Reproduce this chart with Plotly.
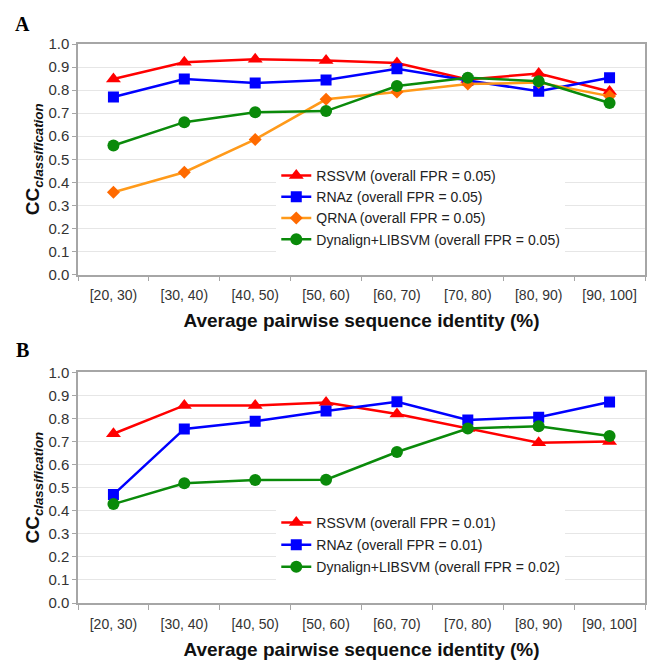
import plotly.graph_objects as go

categories = ["[20, 30)", "[30, 40)", "[40, 50)", "[50, 60)", "[60, 70)",
              "[70, 80)", "[80, 90)", "[90, 100]"]
y_ticks = [0.0, 0.1, 0.2, 0.3, 0.4, 0.5, 0.6, 0.7, 0.8, 0.9, 1.0]

# Panel A (overall FPR = 0.05)
a_rssvm = [0.848, 0.921, 0.934, 0.928, 0.918, 0.846, 0.872, 0.794]
a_rnaz = [0.770, 0.848, 0.831, 0.844, 0.893, 0.842, 0.795, 0.854]
a_qrna = [0.357, 0.444, 0.586, 0.760, 0.792, 0.826, 0.833, 0.774]
a_dyn = [0.560, 0.661, 0.704, 0.709, 0.818, 0.854, 0.838, 0.744]
a_names = ["RSSVM (overall FPR = 0.05)", "RNAz (overall FPR = 0.05)",
           "QRNA (overall FPR = 0.05)", "Dynalign+LIBSVM (overall FPR = 0.05)"]

# Panel B
b_rssvm = [0.734, 0.857, 0.857, 0.870, 0.820, 0.757, 0.695, 0.700]
b_rnaz = [0.470, 0.755, 0.788, 0.833, 0.873, 0.794, 0.806, 0.872]
b_dyn = [0.429, 0.519, 0.533, 0.535, 0.655, 0.757, 0.767, 0.724]
b_names = ["RSSVM (overall FPR = 0.01)", "RNAz (overall FPR = 0.01)",
           "Dynalign+LIBSVM (overall FPR = 0.02)"]

FONT = "Liberation Sans, Arial, sans-serif"
RED, BLUE, GREEN = "#ff0000", "#0000ff", "#0a8a0a"
ORANGE_L, ORANGE_M = "#ff9a1a", "#ff6a00"

styles = {
    "rssvm": dict(line=dict(color=RED, width=2.5),
                  marker=dict(symbol="triangle-up", size=13, color=RED)),
    "rnaz": dict(line=dict(color=BLUE, width=2.5),
                 marker=dict(symbol="square", size=11, color=BLUE)),
    "qrna": dict(line=dict(color=ORANGE_L, width=2.5),
                 marker=dict(symbol="diamond", size=10, color=ORANGE_M)),
    "dyn": dict(line=dict(color=GREEN, width=2.5),
                marker=dict(symbol="circle", size=12, color=GREEN)),
}

fig = go.Figure()

for vals, name, key in zip([a_rssvm, a_rnaz, a_qrna, a_dyn], a_names,
                           ["rssvm", "rnaz", "qrna", "dyn"]):
    fig.add_trace(go.Scatter(x=categories, y=vals, name=name, mode="lines+markers",
                             xaxis="x", yaxis="y", legend="legend", **styles[key]))

for vals, name, key in zip([b_rssvm, b_rnaz, b_dyn], b_names,
                           ["rssvm", "rnaz", "dyn"]):
    fig.add_trace(go.Scatter(x=categories, y=vals, name=name, mode="lines+markers",
                             xaxis="x2", yaxis="y2", legend="legend2",
                             legendgroup="b_" + key, **styles[key]))

AXCOL = "#a6a6a6"
xcommon = dict(type="category", categoryorder="array", categoryarray=categories,
               range=[-0.5, 7.5], showline=True, linecolor=AXCOL, linewidth=1.5,
               mirror=True, showgrid=False, ticks="outside", tickson="boundaries",
               ticklen=5, tickcolor=AXCOL, ticklabelstandoff=7,
               tickfont=dict(family=FONT, size=14, color="#333333"),
               zeroline=False)
ycommon = dict(range=[0, 1], tickvals=y_ticks, tickformat=".1f",
               showline=True, linecolor=AXCOL, linewidth=1.5, mirror=True,
               showgrid=True, gridcolor="#e6e6e6", gridwidth=1,
               ticks="outside", ticklen=4, tickcolor=AXCOL,
               tickfont=dict(family=FONT, size=15, color="#333333"),
               zeroline=False)
xtitle = dict(text="<b>Average pairwise sequence identity (%)</b>",
              font=dict(family=FONT, size=19, color="#111111"), standoff=12)
ytitle = dict(text="<b>CC<sub><i>classification</i></sub></b>",
              font=dict(family=FONT, size=19, color="#111111"), standoff=4)

legcommon = dict(x=0.3497, xanchor="left", yanchor="top", bgcolor="white",
                 font=dict(family=FONT, size=14, color="#222222"),
                 itemclick=False, itemdoubleclick=False)

fig.update_layout(
    width=651, height=661,
    margin=dict(l=78, r=4, t=44, b=57),
    paper_bgcolor="white", plot_bgcolor="white",
    showlegend=True,
    xaxis=dict(domain=[0, 1], anchor="y", title=xtitle, **xcommon),
    yaxis=dict(domain=[0.5875, 1.0], anchor="x", title=ytitle, **ycommon),
    xaxis2=dict(domain=[0, 1], anchor="y2", title=xtitle, **xcommon),
    yaxis2=dict(domain=[0.0, 0.4125], anchor="x2", title=ytitle, **ycommon),
    legend=dict(y=0.7926, traceorder="normal", **legcommon),
    legend2=dict(y=0.172, traceorder="grouped", tracegroupgap=1, **legcommon),
    annotations=[
        dict(text="<b>A</b>", xref="paper", yref="paper", x=-0.098, y=1.036,
             xanchor="center", yanchor="middle", showarrow=False,
             font=dict(family="Liberation Serif, Times New Roman, serif", size=20,
                       color="black")),
        dict(text="<b>B</b>", xref="paper", yref="paper", x=-0.098, y=0.453,
             xanchor="center", yanchor="middle", showarrow=False,
             font=dict(family="Liberation Serif, Times New Roman, serif", size=20,
                       color="black")),
    ],
)

fig.write_html("out.html")
